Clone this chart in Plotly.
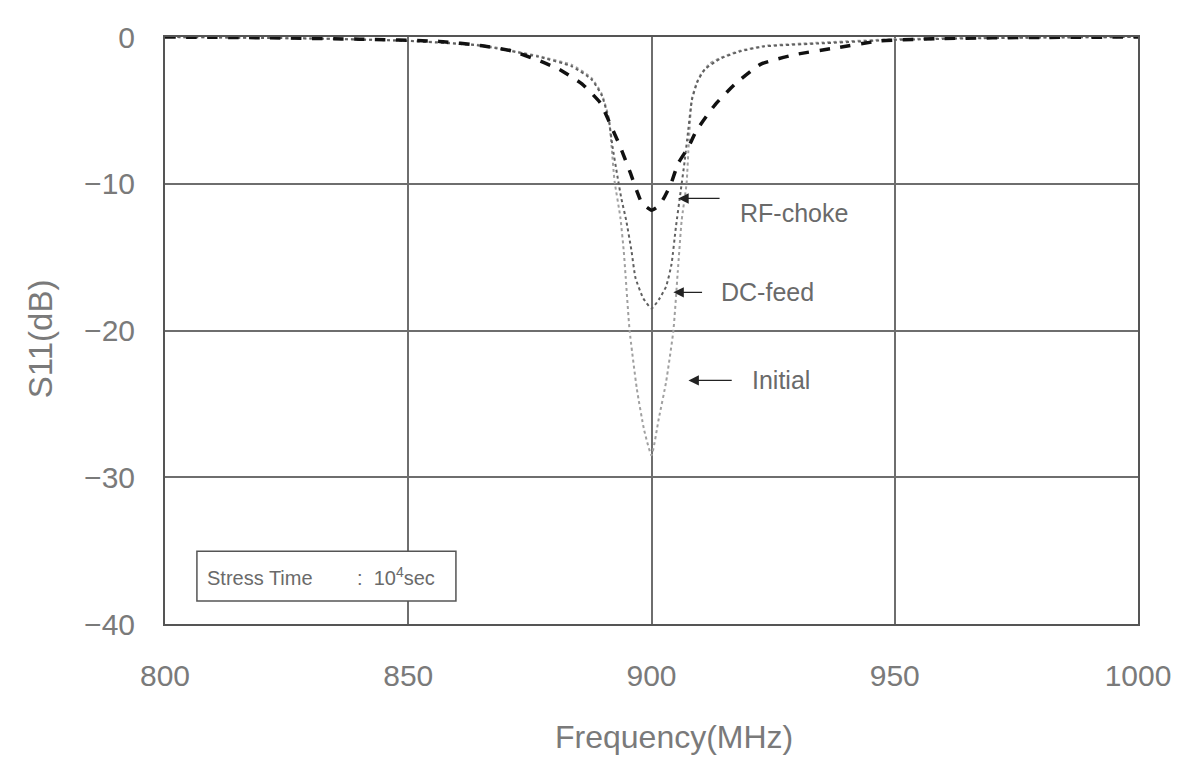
import plotly.graph_objects as go

# ---- data ----
freq_initial = [800, 830, 850, 865, 876.8, 883.6, 887.7, 889.8, 891.2, 891.8, 892.4, 893.6, 894.3, 894.7,
                895.5, 897, 898.5, 900, 901.5, 903, 904.5, 905.4, 906.2, 907.2, 907.7, 908.3, 909.2,
                910.2, 912, 914.3, 918, 923.4, 933.6, 950, 970, 1000]
s11_initial = [0, -0.1, -0.25, -0.55, -1.3, -1.9, -2.8, -3.9, -5.5, -7.5, -9.8, -12.3, -14.6, -16.4,
               -20, -24, -26.8, -28.5, -26, -23.5, -20, -16, -12.5, -10, -7, -4.2, -3.2,
               -2.5, -1.8, -1.4, -0.95, -0.6, -0.4, -0.15, -0.05, 0]

freq_dcfeed = [800, 830, 850, 865, 876.8, 883.6, 887.7, 889.8, 891.2, 892, 893, 893.8, 894.8, 895.9,
               896.7, 898.3, 900, 901.5, 903, 904.1, 905, 906, 906.8, 907.5, 908.3, 909.5, 911, 914,
               918, 923, 934, 950, 970, 1000]
s11_dcfeed = [0, -0.1, -0.27, -0.6, -1.35, -2.0, -2.9, -4.0, -5.6, -7.5, -9.5, -11, -12.5, -14.6,
              -16.4, -17.8, -18.5, -17.9, -17, -15.5, -13, -10.5, -8.5, -6.5, -4.3, -3.0, -2.2, -1.5,
              -1.0, -0.65, -0.45, -0.2, -0.07, 0]

freq_rfchoke = [800, 820, 840, 856.4, 865.2, 871.3, 876.8, 881, 885.7, 889.5, 891.2, 893.6, 895.7, 897,
                898, 900, 901.5, 902.5, 904, 905.5, 907.6, 909.2, 913.1, 917.2, 922.5, 929.5, 937.7,
                947, 960, 980, 1000]
s11_rfchoke = [0, -0.05, -0.15, -0.3, -0.6, -0.95, -1.6, -2.2, -3.2, -4.5, -5.7, -7.5, -9.3, -10.5,
               -11.3, -11.8, -11.5, -11, -10, -8.6, -7.5, -6.4, -4.6, -3.2, -1.85, -1.2, -0.75,
               -0.27, -0.1, -0.03, 0]

x_ticks = [800, 850, 900, 950, 1000]
y_ticks = [0, -10, -20, -30, -40]

# arrow labels: text, arrow head (x, y), arrow tail x, text anchor (x, y)
labels = ["RF-choke", "DC-feed", "Initial"]
head_x = [905.5, 904.5, 907.6]
head_y = [-11.0, -17.4, -23.4]
tail_x = [914.3, 910.7, 916.8]
text_x = [917.8, 913.8, 920.2]
text_y = [-12.0, -17.4, -23.4]

NB = "\u00a0"
note_text = "Stress Time" + NB * 8 + ":" + NB * 2 + "10<sup>4</sup>sec"
x_title = "Frequency(MHz)"
y_title = "S11(dB)"

GRAY = "#7a7a7a"
TXT = "#6a6a6a"
FONT = "Liberation Sans, Arial, sans-serif"

fig = go.Figure()
fig.add_trace(go.Scatter(x=freq_initial, y=s11_initial, mode="lines", name="Initial",
                         line=dict(color="#a0a0a0", width=2, dash="dot", shape="spline", smoothing=0.5)))
fig.add_trace(go.Scatter(x=freq_dcfeed, y=s11_dcfeed, mode="lines", name="DC-feed",
                         line=dict(color="#606060", width=2, dash="dot", shape="spline", smoothing=0.5)))
fig.add_trace(go.Scatter(x=freq_rfchoke, y=s11_rfchoke, mode="lines", name="RF-choke",
                         line=dict(color="#111111", width=3.5, dash="dash", shape="spline", smoothing=0.5)))

annotations = []
for t, hx, hy, tx, lx, ly in zip(labels, head_x, head_y, tail_x, text_x, text_y):
    annotations.append(dict(x=hx, y=hy, ax=tx, ay=hy, xref="x", yref="y", axref="x", ayref="y",
                            text="", showarrow=True, arrowhead=2, arrowsize=1.6, arrowwidth=1.3,
                            arrowcolor="#222222"))
    annotations.append(dict(x=lx, y=ly, xref="x", yref="y", text=t, showarrow=False,
                            xanchor="left", yanchor="middle",
                            font=dict(family=FONT, size=25, color=TXT)))

# note box text
annotations.append(dict(x=0.041, y=0.0816, xref="paper", yref="paper", text=note_text,
                        showarrow=False, xanchor="left", yanchor="middle",
                        font=dict(family=FONT, size=20, color=TXT)))
# axis titles
annotations.append(dict(x=0.5236, y=-0.193, xref="paper", yref="paper", text=x_title,
                        showarrow=False, xanchor="center", yanchor="middle",
                        font=dict(family=FONT, size=32, color=GRAY)))
annotations.append(dict(x=-0.128, y=0.486, xref="paper", yref="paper", text=y_title,
                        showarrow=False, xanchor="center", yanchor="middle", textangle=-90,
                        font=dict(family=FONT, size=33, color=GRAY)))

fig.update_layout(
    width=1175, height=750,
    margin=dict(l=157, r=42, t=28, b=134),
    paper_bgcolor="white", plot_bgcolor="white",
    showlegend=False,
    annotations=annotations,
    shapes=[dict(type="rect", xref="paper", yref="paper", x0=0.0328, x1=0.299, y0=0.039, y1=0.124,
                 line=dict(color="#555555", width=1.5), fillcolor="white", layer="above")],
    xaxis=dict(range=[800, 1000], tickvals=x_ticks, ticktext=[str(v) for v in x_ticks],
               showgrid=True, gridcolor="#6e6e6e", gridwidth=1.5, zeroline=False,
               showline=True, linecolor="#555555", linewidth=2, mirror=True,
               ticks="", ticklabelstandoff=24,
               tickfont=dict(family=FONT, size=30, color=GRAY)),
    yaxis=dict(range=[-40, 0], tickvals=y_ticks, ticktext=[str(v).replace("-", "\u2212") for v in y_ticks],
               showgrid=True, gridcolor="#6e6e6e", gridwidth=1.5, zeroline=False,
               showline=True, linecolor="#555555", linewidth=2, mirror=True,
               ticks="", ticklabelstandoff=22,
               tickfont=dict(family=FONT, size=30, color=GRAY)),
)

fig.write_html("out.html")
